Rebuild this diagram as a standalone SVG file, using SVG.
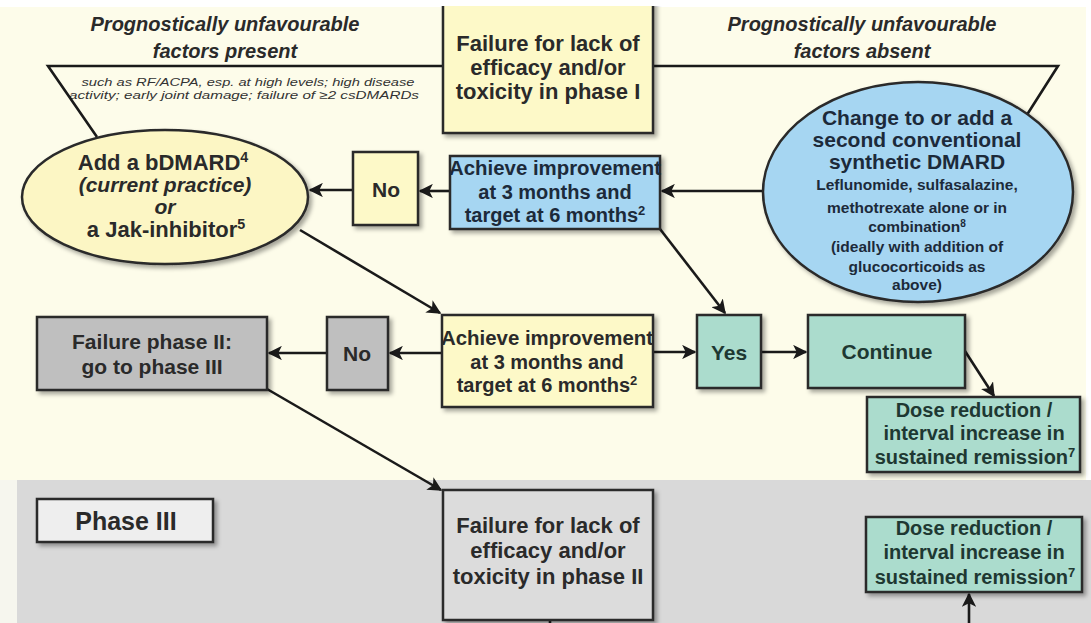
<svg xmlns="http://www.w3.org/2000/svg" width="1091" height="623" viewBox="0 0 1091 623">
<defs>
<filter id="sh" x="-10%" y="-10%" width="125%" height="130%">
<feDropShadow dx="3" dy="3" stdDeviation="2" flood-color="#000" flood-opacity="0.35"/>
</filter>
<marker id="ah" viewBox="0 0 10 10" refX="9" refY="5" markerWidth="5.5" markerHeight="5.5" orient="auto-start-reverse" markerUnits="strokeWidth">
<path d="M0,0 L10,5 L0,10 L2.5,5 z" fill="#1a1a1a"/>
</marker>
</defs>
<style>
.t{font-family:"Liberation Sans",Arial,sans-serif;font-weight:bold;fill:#2a2a2a;text-anchor:middle}
.bl{fill:#1c2a3a}
.tl{fill:#1e3832}
.it{font-style:italic}
.box{stroke:#2a2a2a;stroke-width:2.5}
.yel{fill:#fdf9c8}
.blu{fill:#a6d6f2}
.tea{fill:#abdccd}
.gry{fill:#bfbfbf}
.ln{stroke:#1a1a1a;stroke-width:2.6;fill:none}
.ar{stroke:#1a1a1a;stroke-width:2.6;fill:none;marker-end:url(#ah)}
.sup{font-size:65%}
.sm{font-weight:normal;fill:#333}
</style>
<rect x="0" y="0" width="1091" height="623" fill="#ffffff"/>
<rect x="0" y="7" width="1086" height="473" fill="#fdfcea"/>
<rect x="0" y="480" width="17" height="143" fill="#f6f6ee"/>
<rect x="17" y="480" width="1074" height="143" fill="#d9d9d9"/>

<g id="hdr-left">
<text class="t it" x="225" y="31" font-size="20">Prognostically unfavourable</text>
<text class="t it" x="225" y="58" font-size="20">factors present</text>
<text class="t it sm" x="248" y="86" font-size="11.5" textLength="333" lengthAdjust="spacingAndGlyphs">such as RF/ACPA, esp. at high levels; high disease</text>
<text class="t it sm" x="244" y="99" font-size="11.5" textLength="350" lengthAdjust="spacingAndGlyphs">activity; early joint damage;   failure of ≥2 csDMARDs</text>
</g>
<g id="hdr-right">
<text class="t it" x="862" y="31" font-size="20">Prognostically unfavourable</text>
<text class="t it" x="862" y="58" font-size="20">factors absent</text>
</g>

<g id="connectors">
<polyline class="ln" points="97,137 48,66 443,66"/>
<polyline class="ln" points="653,66 1058,66 1023,121"/>
<line class="ar" x1="353" y1="190" x2="310" y2="190"/>
<line class="ar" x1="450" y1="191" x2="420" y2="191"/>
<line class="ar" x1="764" y1="191" x2="662" y2="191"/>
<line class="ar" x1="300" y1="230" x2="440" y2="313"/>
<line class="ar" x1="660" y1="229" x2="725" y2="313"/>
<line class="ar" x1="442" y1="353" x2="390" y2="353"/>
<line class="ar" x1="327" y1="353" x2="269" y2="353"/>
<line class="ar" x1="653" y1="352" x2="695" y2="352"/>
<line class="ar" x1="761" y1="352" x2="806" y2="352"/>
<line class="ar" x1="963" y1="348" x2="994" y2="396"/>
<line class="ar" x1="267" y1="389" x2="441" y2="490"/>
<line class="ln" x1="550" y1="620" x2="550" y2="623"/>
<line class="ar" x1="969" y1="623" x2="969" y2="594"/>
</g>

<g id="fail1">
<rect class="box yel" x="443" y="-6" width="210" height="139" filter="url(#sh)"/>
<text class="t" x="548" y="51" font-size="22">Failure  for lack of</text>
<text class="t" x="548" y="75" font-size="22">efficacy and/or</text>
<text class="t" x="548" y="99" font-size="22">toxicity in phase I</text>
</g>

<g id="bdmard">
<ellipse class="box" cx="165" cy="197" rx="143" ry="67" fill="#fcf6c4" filter="url(#sh)"/>
<text class="t" x="163" y="170" font-size="22">Add  a bDMARD<tspan class="sup" baseline-shift="super">4</tspan></text>
<text class="t it" x="165" y="192" font-size="21">(current practice)</text>
<text class="t it" x="165" y="214" font-size="21">or</text>
<text class="t" x="166" y="237" font-size="22">a Jak-inhibitor<tspan class="sup" baseline-shift="super">5</tspan></text>
</g>

<g id="no1">
<rect class="box yel" x="353" y="152" width="65" height="73" filter="url(#sh)"/>
<text class="t" x="386" y="197" font-size="21">No</text>
</g>

<g id="achieve1">
<rect class="box blu" x="450" y="156" width="210" height="73" filter="url(#sh)"/>
<text class="t bl" x="555" y="175" font-size="20" textLength="212" lengthAdjust="spacingAndGlyphs">Achieve improvement</text>
<text class="t bl" x="555" y="199" font-size="20">at 3 months and</text>
<text class="t bl" x="555" y="222" font-size="20">target at 6 months<tspan class="sup" baseline-shift="super">2</tspan></text>
</g>

<g id="csdmard">
<ellipse class="box" cx="918" cy="192" rx="155" ry="110" fill="#a6d6f2" filter="url(#sh)"/>
<text class="t bl" x="917" y="125" font-size="21">Change to or add a</text>
<text class="t bl" x="917" y="147" font-size="21">second conventional</text>
<text class="t bl" x="917" y="169" font-size="21">synthetic DMARD</text>
<text class="t bl" x="917" y="190" font-size="15.5">Leflunomide, sulfasalazine,</text>
<text class="t bl" x="917" y="213" font-size="15.5">methotrexate alone or in</text>
<text class="t bl" x="917" y="232" font-size="15.5">combination<tspan class="sup" baseline-shift="super">8</tspan></text>
<text class="t bl" x="917" y="252" font-size="15.5">(ideally with addition of</text>
<text class="t bl" x="917" y="272" font-size="15.5">glucocorticoids as</text>
<text class="t bl" x="917" y="290" font-size="15.5">above)</text>
</g>

<g id="failp2">
<rect class="box gry" x="37" y="317" width="230" height="73" filter="url(#sh)"/>
<text class="t" x="152" y="349" font-size="21">Failure  phase II:</text>
<text class="t" x="152" y="374" font-size="21">go to phase III</text>
</g>

<g id="no2">
<rect class="box gry" x="327" y="317" width="61" height="73" filter="url(#sh)"/>
<text class="t" x="357" y="361" font-size="21">No</text>
</g>

<g id="achieve2">
<rect class="box yel" x="442" y="315" width="211" height="92" filter="url(#sh)"/>
<text class="t" x="547" y="345" font-size="20" textLength="212" lengthAdjust="spacingAndGlyphs">Achieve improvement</text>
<text class="t" x="547" y="369" font-size="20">at 3 months and</text>
<text class="t" x="547" y="392" font-size="20">target at 6 months<tspan class="sup" baseline-shift="super">2</tspan></text>
</g>

<g id="yes">
<rect class="box tea" x="697" y="315" width="64" height="73" filter="url(#sh)"/>
<text class="t tl" x="729" y="360" font-size="21">Yes</text>
</g>

<g id="continue">
<rect class="box tea" x="808" y="315" width="157" height="73" filter="url(#sh)"/>
<text class="t tl" x="887" y="359" font-size="21">Continue</text>
</g>

<g id="dose1">
<rect class="box tea" x="867" y="397" width="213" height="75" filter="url(#sh)"/>
<text class="t tl" x="974" y="417" font-size="20">Dose reduction /</text>
<text class="t tl" x="974" y="440" font-size="20">interval increase in</text>
<text class="t tl" x="975" y="464" font-size="20">sustained remission<tspan class="sup" baseline-shift="super">7</tspan></text>
</g>

<g id="phase3">
<rect class="box" x="37" y="499" width="176" height="43" fill="#eeeeee" filter="url(#sh)"/>
<text class="t" x="126" y="530" font-size="25">Phase III</text>
</g>

<g id="fail2">
<rect class="box" x="443" y="490" width="210" height="130" fill="#dcdcdc" filter="url(#sh)"/>
<text class="t" x="548" y="533" font-size="22">Failure  for lack of</text>
<text class="t" x="548" y="558" font-size="22">efficacy and/or</text>
<text class="t" x="548" y="584" font-size="22">toxicity in phase II</text>
</g>

<g id="dose2">
<rect class="box tea" x="866" y="517" width="216" height="75" filter="url(#sh)"/>
<text class="t tl" x="974" y="535" font-size="20">Dose reduction /</text>
<text class="t tl" x="974" y="559" font-size="20">interval increase in</text>
<text class="t tl" x="975" y="584" font-size="20">sustained remission<tspan class="sup" baseline-shift="super">7</tspan></text>
</g>
<rect x="0" y="0" width="1091" height="6" fill="#ffffff"/>
</svg>
